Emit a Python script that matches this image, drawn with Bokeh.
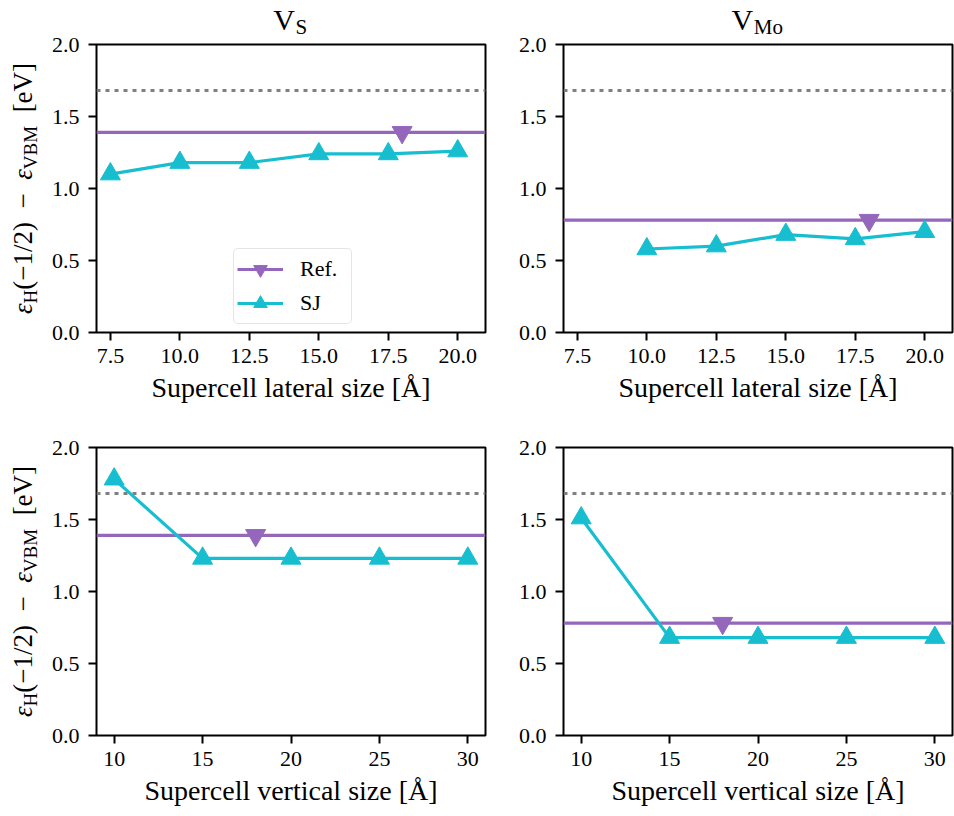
import math
import os
import glob
import struct

from bokeh.plotting import figure
from bokeh.layouts import column, row
from bokeh.models import FixedTicker, Label, Legend, LegendItem, Range1d, Span
from bokeh.embed import file_html
from bokeh.resources import INLINE

# ---------------- data ----------------
lateral_size_vs = [7.5, 10.0, 12.5, 15.0, 17.5, 20.0]
sj_lateral_vs = [1.10, 1.18, 1.18, 1.24, 1.24, 1.26]
lateral_size_vmo = [10.0, 12.5, 15.0, 17.5, 20.0]
sj_lateral_vmo = [0.58, 0.60, 0.68, 0.65, 0.70]
vertical_size = [10, 15, 20, 25, 30]
sj_vertical_vs = [1.78, 1.23, 1.23, 1.23, 1.23]
sj_vertical_vmo = [1.51, 0.68, 0.68, 0.68, 0.68]
ref_size = [18]
ref_vs = [1.39]
ref_vmo = [0.78]
dotted_level = [1.68]

lateral_ticks = [7.5, 10.0, 12.5, 15.0, 17.5, 20.0]
lateral_tick_labels = ["7.5", "10.0", "12.5", "15.0", "17.5", "20.0"]
vertical_ticks = [10, 15, 20, 25, 30]
vertical_tick_labels = ["10", "15", "20", "25", "30"]
y_ticks = [0.0, 0.5, 1.0, 1.5, 2.0]
y_tick_labels = ["0.0", "0.5", "1.0", "1.5", "2.0"]
lateral_xlim = [7, 21]
vertical_xlim = [9, 31]
ylim = [0, 2]

title_vs = ("V", "S")
title_vmo = ("V", "Mo")
xlabel_lateral = "Supercell lateral size [Å]"
xlabel_vertical = "Supercell vertical size [Å]"
# (text, role): role "it" = italic main, "rm" = roman main, "sub" = subscript
ylabel_pieces = [("ε", "it"), ("H", "sub"), ("(−1/2)\u2002−\u2002", "rm"),
                 ("ε", "it"), ("VBM", "sub"), ("\u2002[eV]", "rm")]
legend_labels = ["Ref.", "SJ"]

# ---------------- style / layout ----------------
FONT = "Liberation Serif"
ASC, DESC = 0.891, 0.216          # font ascent / descent (em)
MID_TO_BASE = (ASC - DESC) / 2    # distance from a middle-anchored box centre to the baseline (em)
TICK_PX = 22
LABEL_PX = 28
YLAB_PX = 27
SUB_PX = 19
TITLE_PX = 30
TITLE_SUB_PX = 21
PURPLE = "#9467bd"
CYAN = "#17becf"
GRAY = "#7f7f7f"
LW = 3.2

PAGE_W = 954
STRIP_W = 48          # left strip holding the y labels
TITLE_H = 44          # top strip holding the titles (overlaps the first row by TOP1)
FRAME_W = 391
FRAME_H = 288
L_LEFT, L_RIGHT = 46, 30
R_LEFT, R_RIGHT = 46, 2
TOP1, BOT1 = 14, 83
TOP2, BOT2 = 32, 81
YLAB_BASE_X = 32      # baseline of the rotated y label (page px)

# ---------------- font metrics (for stitching sub-scripted texts) ----------------
FALLBACK = {' ': 0.25, '(': 0.333, ')': 0.333, '−': 0.564, '1': 0.5, '2': 0.5,
            '/': 0.278, '[': 0.333, ']': 0.333, 'e': 0.444, 'V': 0.722, 'H': 0.722,
            'B': 0.667, 'M': 0.889, 'S': 0.556, 'o': 0.5, 'ε': 0.44, '\u2002': 0.5}


def find_font(name):
    roots = ["/usr/share/fonts", "/usr/local/share/fonts",
             os.path.expanduser("~/.fonts"), os.path.expanduser("~/.local/share/fonts")]
    for r in roots:
        hits = glob.glob(os.path.join(r, "**", name), recursive=True)
        if hits:
            return hits[0]
    return None


def load_metrics(path):
    data = open(path, "rb").read()
    num = struct.unpack(">H", data[4:6])[0]
    tables = {}
    for i in range(num):
        tag, _cs, off, ln = struct.unpack(">4sIII", data[12 + 16 * i:28 + 16 * i])
        tables[tag.decode("latin1")] = off
    head = tables["head"]
    upem = struct.unpack(">H", data[head + 18:head + 20])[0]
    hhea = tables["hhea"]
    nhm = struct.unpack(">H", data[hhea + 34:hhea + 36])[0]
    hmtx = tables["hmtx"]
    adv = [struct.unpack(">H", data[hmtx + 4 * i:hmtx + 4 * i + 2])[0] for i in range(nhm)]
    cmap = tables["cmap"]
    n = struct.unpack(">H", data[cmap + 2:cmap + 4])[0]
    sub = None
    for i in range(n):
        pid, eid, off = struct.unpack(">HHI", data[cmap + 4 + 8 * i:cmap + 12 + 8 * i])
        fmt = struct.unpack(">H", data[cmap + off:cmap + off + 2])[0]
        if pid == 3 and eid == 1 and fmt == 4:
            sub = cmap + off
    seg2 = struct.unpack(">H", data[sub + 6:sub + 8])[0]
    segs = seg2 // 2
    ends = struct.unpack(">%dH" % segs, data[sub + 14:sub + 14 + seg2])
    so = sub + 16 + seg2
    starts = struct.unpack(">%dH" % segs, data[so:so + seg2])
    do = so + seg2
    deltas = struct.unpack(">%dh" % segs, data[do:do + seg2])
    ro = do + seg2
    ros = struct.unpack(">%dH" % segs, data[ro:ro + seg2])

    def width(ch):
        c = ord(ch)
        for i in range(segs):
            if ends[i] >= c:
                if starts[i] > c:
                    return None
                if ros[i] == 0:
                    g = (c + deltas[i]) & 0xFFFF
                else:
                    addr = ro + 2 * i + ros[i] + 2 * (c - starts[i])
                    g = struct.unpack(">H", data[addr:addr + 2])[0]
                    if g:
                        g = (g + deltas[i]) & 0xFFFF
                if not g:
                    return None
                return adv[min(g, nhm - 1)] / upem
        return None
    return width


METRICS = {}
for style, fname in (("normal", "LiberationSerif-Regular.ttf"), ("italic", "LiberationSerif-Italic.ttf")):
    try:
        pth = find_font(fname)
        METRICS[style] = load_metrics(pth) if pth else None
    except Exception:
        METRICS[style] = None


def text_width(text, px, style="normal"):
    f = METRICS.get(style)
    tot = 0.0
    for ch in text:
        w = f(ch) if f is not None else None
        if not w:
            w = FALLBACK.get(ch, 0.5)
        tot += w
    return tot * px


# ---------------- text strips ----------------
def text_strip(width, height, top=0, bottom=0):
    s = figure(width=width, height=height,
               x_range=Range1d(0, width), y_range=Range1d(height - top - bottom, 0),
               output_backend="svg", toolbar_location=None,
               x_axis_type=None, y_axis_type=None,
               min_border_left=0, min_border_right=0,
               min_border_top=top, min_border_bottom=bottom)
    s.outline_line_color = None
    s.background_fill_color = "white"
    s.border_fill_color = "white"
    return s


def add_title(strip, xc, parts):
    # baseline of the main letter 15 px, of the subscript 10 px above the frame top
    w_main = text_width(parts[0], TITLE_PX)
    w_sub = text_width(parts[1], TITLE_SUB_PX)
    bnd = xc - (w_main + w_sub) / 2 + w_main
    base_main = TITLE_H - 15
    base_sub = TITLE_H - 10
    strip.add_layout(Label(x=bnd, y=base_main - MID_TO_BASE * TITLE_PX, text=parts[0],
                           text_align="right", text_baseline="middle",
                           text_font=FONT, text_font_size=f"{TITLE_PX}px", text_color="black"))
    strip.add_layout(Label(x=bnd + 0.5, y=base_sub - MID_TO_BASE * TITLE_SUB_PX, text=parts[1],
                           text_align="left", text_baseline="middle",
                           text_font=FONT, text_font_size=f"{TITLE_SUB_PX}px", text_color="black"))


def add_ylabel(strip, yc):
    sizes = []
    for txt, role in ylabel_pieces:
        px = SUB_PX if role == "sub" else YLAB_PX
        st = "italic" if role == "it" else "normal"
        sizes.append((px, st, text_width(txt, px, st)))
    total = sum(s[2] for s in sizes)
    pos = yc + total / 2
    for (txt, role), (px, st, w) in zip(ylabel_pieces, sizes):
        base = YLAB_BASE_X + (4 if role == "sub" else 0)
        strip.add_layout(Label(x=base - MID_TO_BASE * px, y=pos, text=txt,
                               angle=math.pi / 2, text_align="left", text_baseline="middle",
                               text_font=FONT, text_font_size=f"{px}px",
                               text_font_style=st, text_color="black"))
        pos -= w


# ---------------- panel builder ----------------
def style_axis(ax, ticks, labels, standoff):
    ax.ticker = FixedTicker(ticks=ticks, minor_ticks=[])
    ax.major_label_overrides = {t: l for t, l in zip(ticks, labels)}
    ax.major_tick_out = 8
    ax.major_tick_in = 0
    ax.minor_tick_out = 0
    ax.minor_tick_in = 0
    ax.major_tick_line_width = 2
    ax.major_tick_line_color = "black"
    ax.axis_line_color = None
    ax.major_label_text_font = FONT
    ax.major_label_text_font_size = f"{TICK_PX}px"
    ax.major_label_text_color = "black"
    ax.major_label_standoff = standoff
    ax.axis_label_text_font = FONT
    ax.axis_label_text_font_size = f"{LABEL_PX}px"
    ax.axis_label_text_font_style = "normal"
    ax.axis_label_text_color = "black"
    ax.axis_label_standoff = 6


def build_panel(xs, sj, ref, xlim, ticks, tick_labels, xlabel, left_col, top_row, with_legend=False):
    bl, br = (L_LEFT, L_RIGHT) if left_col else (R_LEFT, R_RIGHT)
    bt, bb = (TOP1, BOT1) if top_row else (TOP2, BOT2)
    p = figure(width=bl + FRAME_W + br, height=bt + FRAME_H + bb,
               x_range=Range1d(*xlim), y_range=Range1d(*ylim),
               output_backend="svg", toolbar_location=None,
               min_border_left=bl, min_border_right=br,
               min_border_top=bt, min_border_bottom=bb)
    p.grid.visible = False
    p.outline_line_color = "black"
    p.outline_line_width = 2
    p.background_fill_color = "white"
    p.border_fill_color = None      # transparent border: the title strip shows through
    p.border_fill_alpha = 0

    style_axis(p.xaxis[0], ticks, tick_labels, 8)
    style_axis(p.yaxis[0], y_ticks, y_tick_labels, 9)
    p.xaxis[0].axis_label = xlabel

    dotted = Span(location=dotted_level[0], dimension="width", line_color=GRAY,
                  line_width=3, line_dash="4 5", level="underlay")
    p.add_layout(dotted)

    ref_line = p.line(x=xlim, y=[ref[0]] * len(xlim), line_color=PURPLE, line_width=LW)
    ref_mark = p.scatter(x=ref_size, y=ref, marker="inverted_triangle", size=20,
                         fill_color=PURPLE, line_color=PURPLE)
    sj_line = p.line(x=xs, y=sj, line_color=CYAN, line_width=LW, line_join="round")
    sj_mark = p.scatter(x=xs, y=sj, marker="triangle", size=20,
                        fill_color=CYAN, line_color=CYAN)

    if with_legend:
        legend = Legend(items=[LegendItem(label=legend_labels[0], renderers=[ref_line, ref_mark]),
                               LegendItem(label=legend_labels[1], renderers=[sj_line, sj_mark])],
                        location=(137, 8), orientation="vertical",
                        glyph_width=46, glyph_height=34, spacing=-1, padding=3, margin=0,
                        label_standoff=17, label_width=48,
                        label_text_font=FONT, label_text_font_size=f"{TICK_PX}px",
                        label_text_color="black", label_text_baseline="middle",
                        border_line_color="#cccccc", border_line_width=1.5,
                        border_radius=5, background_fill_color="white",
                        background_fill_alpha=0.8)
        p.add_layout(legend)
    return p


p1 = build_panel(lateral_size_vs, sj_lateral_vs, ref_vs, lateral_xlim, lateral_ticks,
                 lateral_tick_labels, xlabel_lateral, True, True, with_legend=True)
p2 = build_panel(lateral_size_vmo, sj_lateral_vmo, ref_vmo, lateral_xlim, lateral_ticks,
                 lateral_tick_labels, xlabel_lateral, False, True)
p3 = build_panel(vertical_size, sj_vertical_vs, ref_vs, vertical_xlim, vertical_ticks,
                 vertical_tick_labels, xlabel_vertical, True, False)
p4 = build_panel(vertical_size, sj_vertical_vmo, ref_vmo, vertical_xlim, vertical_ticks,
                 vertical_tick_labels, xlabel_vertical, False, False)

# title strip across the page; it overlaps the top border of the first row by TOP1 px
title_strip = text_strip(PAGE_W, TITLE_H)
title_strip.margin = (0, 0, -TOP1, 0)
left_frame_c = STRIP_W + L_LEFT + FRAME_W / 2
right_frame_c = STRIP_W + L_LEFT + FRAME_W + L_RIGHT + R_LEFT + FRAME_W / 2
add_title(title_strip, left_frame_c, title_vs)
add_title(title_strip, right_frame_c, title_vmo)

# y-label strips whose frames line up with the panels of each row
ystrip1 = text_strip(STRIP_W, TOP1 + FRAME_H + BOT1, TOP1, BOT1)
add_ylabel(ystrip1, FRAME_H / 2)
ystrip2 = text_strip(STRIP_W, TOP2 + FRAME_H + BOT2, TOP2, BOT2)
add_ylabel(ystrip2, FRAME_H / 2)

layout = column(title_strip,
                row(ystrip1, p1, p2, spacing=0),
                row(ystrip2, p3, p4, spacing=0),
                spacing=0)
open("out.html", "w").write(file_html(layout, INLINE))
